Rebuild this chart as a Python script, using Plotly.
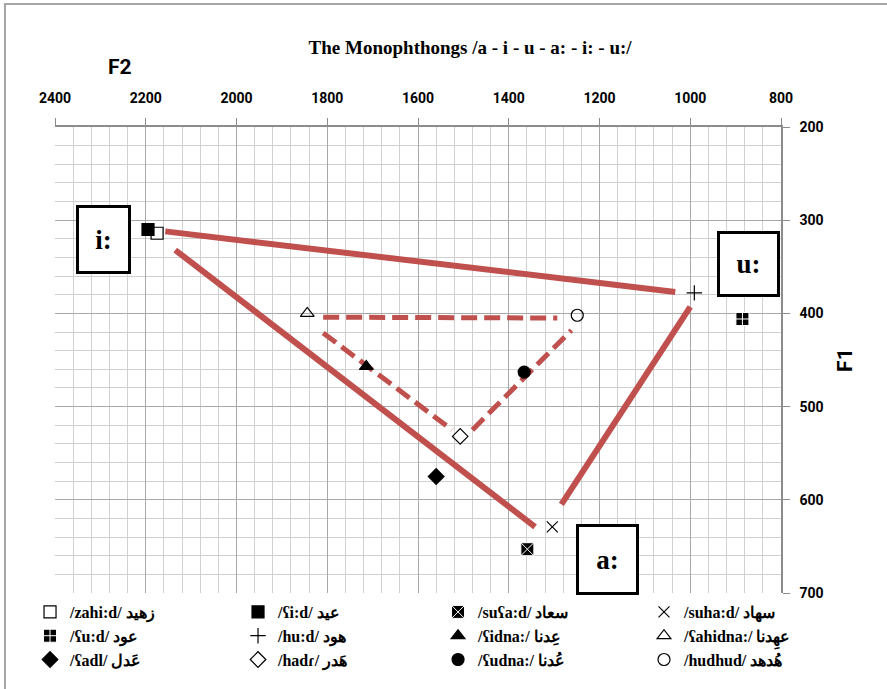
import plotly.graph_objects as go

# vowel tokens (F2, F1 in Hz), listed column by column as in the legend
labels = ["/zahi:d/ زهيد", "/ʕu:d/ عود", "/ʕadl/ عَدل",
          "/ʕi:d/ عيد", "/hu:d/ هود", "/hadɾ/ هَدر",
          "/suʕa:d/ سعاد", "/ʕidna:/ عِدنا", "/ʕudna:/ عُدنا",
          "/suha:d/ سهاد", "/ʕahidna:/ عهِدنا", "/hudhud/ هُدهد"]
f2 = [2175, 885, 1560, 2195, 991, 1507, 1359, 1714, 1366, 1304, 1844, 1249]
f1 = [314, 406, 575, 310, 378, 532, 653, 457, 463, 629, 400, 402]
symbols = ["square-open", "square-cross", "diamond",
           "square", "cross-thin-open", "diamond-open",
           "square-x", "triangle-up", "circle",
           "x-thin-open", "triangle-up-open", "circle-open"]
legend_ids = ["legend"] * 3 + ["legend2"] * 3 + ["legend3"] * 3 + ["legend4"] * 3

# long vowel triangle (solid) and short vowel triangle (dashed): [F2 start, F2 end], [F1 start, F1 end]
solid_f2 = [[2157, 1033], [2135, 1342], [1284, 1000]]
solid_f1 = [[312, 377], [332, 629], [605, 393]]
dash_f2 = [[1809, 1293], [1809, 1525], [1480, 1262]]
dash_f1 = [[404, 405], [421, 525], [525, 418]]

# vowel boxes
box_text = ["i:", "u:", "a:"]
box_f2 = [2293, 871, 1182]
box_f1 = [321, 347, 664]
box_w = [47, 55, 55]
box_h = [61, 58, 63]

RED = "#C0504D"

fig = go.Figure()

for xs, ys in zip(solid_f2, solid_f1):
    fig.add_trace(go.Scatter(x=xs, y=ys, mode="lines", showlegend=False, hoverinfo="skip",
                             line=dict(color=RED, width=6)))
for xs, ys in zip(dash_f2, dash_f1):
    fig.add_trace(go.Scatter(x=xs, y=ys, mode="lines", showlegend=False, hoverinfo="skip",
                             line=dict(color=RED, width=5, dash="16px,7px")))

for i in range(len(labels)):
    sym = symbols[i]
    if sym in ("square-x", "square-cross"):
        mk = dict(symbol=sym, size=13, color="black", line=dict(color="white", width=1))
    elif sym in ("cross-thin-open", "x-thin-open"):
        mk = dict(symbol=sym, size=11, color="black", line=dict(color="black", width=1.2))
    else:
        mk = dict(symbol=sym, size=12, color="black", line=dict(color="black", width=1.2))
    fig.add_trace(go.Scatter(x=[f2[i]], y=[f1[i]], mode="markers", name=labels[i],
                             marker=mk, legend=legend_ids[i]))

for t, x, y, w, h in zip(box_text, box_f2, box_f1, box_w, box_h):
    fig.add_annotation(x=x, y=y, text="<b>" + t + "</b>", showarrow=False,
                       font=dict(family="Liberation Serif", size=27, color="black"),
                       bordercolor="black", borderwidth=3, bgcolor="white",
                       width=w, height=h)

fig.add_annotation(xref="paper", yref="paper", x=0.0895, y=1.129, xanchor="center", yanchor="middle",
                   text="<b>F2</b>", showarrow=False,
                   font=dict(family="Roboto", size=21, color="black"))
fig.add_annotation(xref="paper", yref="paper", x=1.088, y=0.5, xanchor="center", yanchor="middle",
                   text="<b>F1</b>", textangle=-90, showarrow=False,
                   font=dict(family="Roboto", size=21, color="black"))

# outer frame
fig.add_shape(type="rect", xref="paper", yref="paper", x0=-0.0689, x1=1.2, y0=-0.3, y1=1.264,
              line=dict(color="#a6a6a6", width=2), layer="below")

leg_font = dict(family="Liberation Serif", size=16, color="black", weight="bold")
legend_x = [-0.0344, 0.2521, 0.5276, 0.8113]
legends = {}
for k, lid in enumerate(["legend", "legend2", "legend3", "legend4"]):
    legends[lid] = dict(orientation="v", x=legend_x[k], xanchor="left", y=-0.0043, yanchor="top",
                        font=leg_font, bgcolor="rgba(0,0,0,0)", tracegroupgap=0)

fig.update_layout(
    width=887, height=689,
    margin=dict(l=55, r=106, t=127, b=96, autoexpand=False),
    plot_bgcolor="white", paper_bgcolor="white",
    title=dict(text="<b>The Monophthongs /a - i - u - a: - i: - u:/</b>", x=0.53, xanchor="center",
               y=1 - 47 / 689, yanchor="middle",
               font=dict(family="Liberation Serif", size=19, color="black")),
    xaxis=dict(range=[2400, 800], side="top", dtick=200, tick0=800, automargin=False,
               showgrid=True, gridcolor="#a8a8a8", gridwidth=1.3,
               minor=dict(dtick=40, showgrid=True, gridcolor="#d0d0d0", gridwidth=1.3),
               ticks="outside", ticklen=7, tickcolor="#8c8c8c",
               showline=True, linecolor="#8c8c8c", linewidth=1.5,
               tickfont=dict(family="Roboto", size=14, color="black", weight="bold"),
               ticklabelstandoff=10, zeroline=False),
    yaxis=dict(range=[700, 200], side="right", dtick=100, tick0=200, automargin=False,
               showgrid=True, gridcolor="#a8a8a8", gridwidth=1.3,
               minor=dict(dtick=20, showgrid=True, gridcolor="#d0d0d0", gridwidth=1.3),
               ticks="outside", ticklen=7, tickcolor="#8c8c8c",
               showline=True, linecolor="#8c8c8c", linewidth=1.5,
               tickfont=dict(family="Roboto", size=14, color="black", weight="bold"),
               ticklabelstandoff=7, zeroline=False),
    showlegend=True,
    **legends,
)

# the page's default body margin would shift the chart by 8px
fig.write_html("out.html", config={"displayModeBar": False},
               post_script="document.body.style.margin='0';")
